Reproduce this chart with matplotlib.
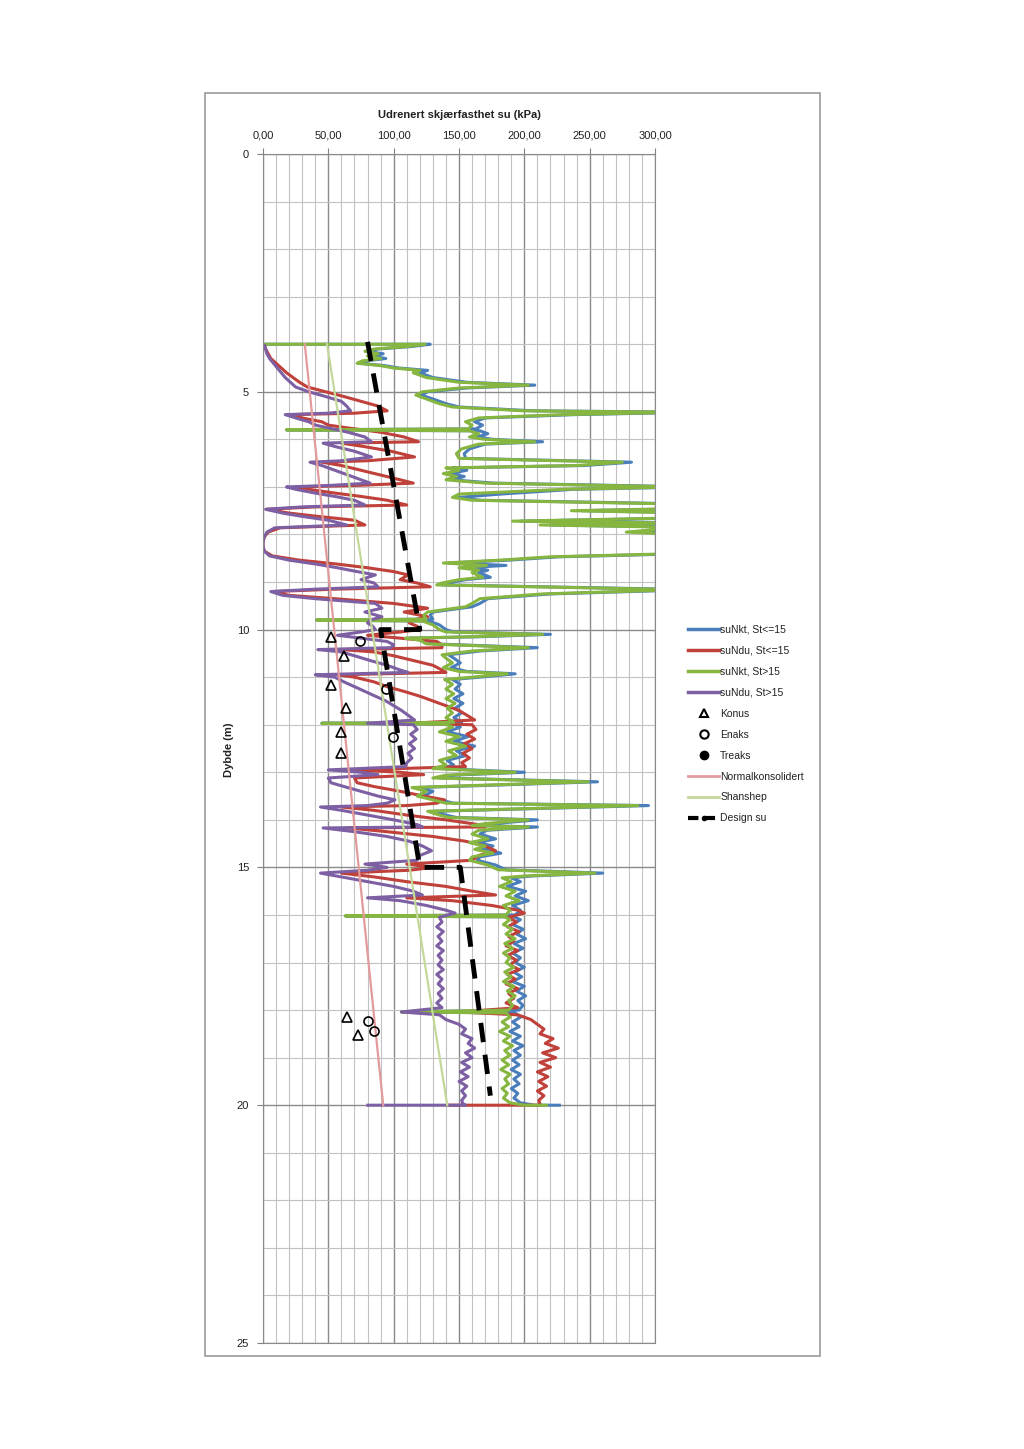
import numpy as np
import matplotlib.pyplot as plt
from matplotlib.lines import Line2D
from matplotlib.patches import Rectangle
from matplotlib.ticker import MultipleLocator, FuncFormatter

plt.rcParams['font.family'] = ['Liberation Sans', 'DejaVu Sans']

# ---- CPTU-tolkning: dybde (m) og su (kPa) ----
z_nkt = [
    4.00, 4.00, 4.05, 4.10, 4.15, 4.20, 4.25, 4.30, 4.35, 4.40,
    4.45, 4.50, 4.55, 4.60, 4.70, 4.80, 4.86, 4.92, 5.00, 5.07,
    5.15, 5.25, 5.32, 5.40, 5.43, 5.48, 5.55, 5.63, 5.70, 5.78,
    5.80, 5.82, 5.88, 5.95, 6.00, 6.05, 6.10, 6.20, 6.30, 6.40,
    6.48, 6.55, 6.60, 6.65, 6.72, 6.78, 6.85, 6.92, 7.00, 7.05,
    7.15, 7.22, 7.28, 7.36, 7.45, 7.50, 7.55, 7.65, 7.72, 7.76,
    7.80, 7.85, 7.95, 8.00, 8.20, 8.40, 8.47, 8.54, 8.60, 8.65,
    8.70, 8.75, 8.80, 8.90, 8.95, 9.02, 9.06, 9.16, 9.25, 9.35,
    9.45, 9.52, 9.63, 9.70, 9.78, 9.80, 9.82, 9.90, 10.00, 10.05,
    10.10, 10.15, 10.18, 10.22, 10.30, 10.38, 10.45, 10.53, 10.60, 10.70,
    10.80, 10.88, 10.93, 11.00, 11.05, 11.15, 11.25, 11.35, 11.45, 11.55,
    11.65, 11.75, 11.85, 11.95, 11.97, 11.99, 12.05, 12.15, 12.25, 12.35,
    12.45, 12.55, 12.65, 12.75, 12.85, 12.92, 13.00, 13.06, 13.12, 13.20,
    13.28, 13.32, 13.40, 13.50, 13.58, 13.65, 13.70, 13.78, 13.82, 13.90,
    13.95, 14.00, 14.08, 14.12, 14.15, 14.22, 14.30, 14.40, 14.48, 14.55,
    14.62, 14.70, 14.78, 14.85, 14.95, 15.05, 15.12, 15.18, 15.22, 15.30,
    15.40, 15.50, 15.60, 15.70, 15.80, 15.90, 16.00, 16.02, 16.04, 16.10,
    16.20, 16.30, 16.40, 16.50, 16.60, 16.70, 16.80, 16.90, 17.00, 17.10,
    17.20, 17.30, 17.40, 17.50, 17.60, 17.70, 17.80, 17.90, 18.00, 18.04,
    18.06, 18.15, 18.25, 18.35, 18.45, 18.55, 18.65, 18.75, 18.85, 18.95,
    19.05, 19.15, 19.25, 19.35, 19.45, 19.55, 19.65, 19.75, 19.85, 19.95,
    20.00, 20.00,
]

# suNkt, St<=15 (blaa)
su_nkt_lo = [
    1, 128, 113, 88, 80, 92, 83, 94, 79, 74,
    93, 104, 126, 120, 130, 156, 208, 156, 126, 121,
    130, 140, 150, 207, 330, 238, 170, 162, 168, 163,
    18, 166, 172, 164, 176, 214, 170, 158, 154, 155,
    282, 246, 145, 156, 143, 154, 145, 176, 330, 238,
    182, 150, 166, 330, 340, 244, 340, 330, 197, 330,
    220, 330, 285, 330, 340, 330, 226, 188, 142, 186,
    155, 172, 165, 174, 155, 141, 137, 330, 220, 172,
    166, 160, 130, 128, 130, 41, 127, 135, 140, 146,
    220, 166, 112, 125, 130, 210, 166, 142, 146, 151,
    144, 156, 193, 166, 145, 151, 147, 153, 146, 153,
    147, 152, 146, 152, 45, 146, 151, 141, 157, 146,
    162, 148, 155, 141, 146, 135, 200, 146, 135, 256,
    166, 118, 130, 123, 135, 146, 295, 186, 131, 140,
    148, 210, 176, 166, 210, 171, 166, 178, 164, 176,
    168, 182, 166, 164, 178, 186, 260, 206, 190, 197,
    187, 201, 193, 203, 191, 197, 193, 63, 192, 197,
    191, 199, 194, 201, 192, 199, 191, 197, 193, 200,
    192, 198, 191, 200, 194, 201, 195, 199, 196, 106,
    193, 197, 191, 196, 189, 197, 191, 199, 192, 197,
    191, 196, 190, 197, 192, 196, 190, 195, 192, 197,
    208, 228,
]

# suNkt, St>15 (groenn)
su_nkt_hi = [
    1, 124, 110, 85, 78, 88, 80, 90, 76, 72,
    90, 100, 120, 115, 125, 150, 203, 150, 122, 117,
    125, 135, 145, 200, 320, 230, 165, 155, 160, 157,
    18, 158, 165, 158, 170, 208, 165, 152, 148, 150,
    275, 240, 140, 150, 138, 148, 140, 170, 320, 230,
    150, 145, 160, 320, 330, 236, 330, 320, 191, 320,
    212, 320, 278, 320, 330, 320, 220, 181, 138, 171,
    150, 165, 160, 168, 150, 137, 133, 320, 214, 166,
    160, 155, 126, 123, 125, 41, 122, 130, 135, 140,
    214, 160, 109, 120, 125, 203, 160, 137, 140, 145,
    138, 150, 187, 160, 139, 145, 140, 146, 140, 147,
    141, 145, 140, 146, 45, 140, 145, 135, 150, 140,
    155, 142, 148, 135, 140, 130, 193, 140, 130, 249,
    160, 114, 125, 118, 130, 140, 287, 180, 126, 135,
    142, 203, 170, 160, 203, 165, 160, 172, 158, 170,
    162, 176, 160, 158, 172, 180, 254, 200, 183, 190,
    181, 193, 186, 196, 184, 189, 186, 63, 185, 189,
    184, 191, 186, 193, 185, 191, 184, 189, 186, 192,
    185, 190, 184, 192, 187, 193, 188, 191, 188, 106,
    186, 189, 183, 188, 181, 189, 184, 191, 185, 189,
    183, 188, 182, 189, 185, 188, 183, 187, 184, 189,
    200, 218,
]

z_ndu = [
    4.00, 4.10, 4.20, 4.30, 4.40, 4.50, 4.60, 4.70, 4.80, 4.90,
    5.00, 5.10, 5.20, 5.30, 5.40, 5.45, 5.48, 5.55, 5.63, 5.70,
    5.76, 5.85, 5.95, 6.05, 6.08, 6.15, 6.25, 6.37, 6.45, 6.48,
    6.55, 6.65, 6.75, 6.85, 6.92, 6.97, 7.00, 7.05, 7.13, 7.20,
    7.28, 7.38, 7.42, 7.47, 7.55, 7.62, 7.70, 7.80, 7.86, 7.95,
    8.05, 8.15, 8.25, 8.35, 8.45, 8.54, 8.62, 8.70, 8.78, 8.85,
    8.95, 9.02, 9.10, 9.15, 9.20, 9.28, 9.35, 9.45, 9.55, 9.63,
    9.73, 9.80, 9.86, 9.93, 10.00, 10.05, 10.12, 10.18, 10.25, 10.32,
    10.38, 10.42, 10.47, 10.55, 10.65, 10.75, 10.85, 10.90, 10.95, 11.00,
    11.10, 11.20, 11.30, 11.40, 11.50, 11.60, 11.70, 11.80, 11.90, 11.97,
    12.00, 12.10, 12.20, 12.30, 12.40, 12.50, 12.60, 12.70, 12.80, 12.88,
    12.95, 13.00, 13.05, 13.12, 13.22, 13.30, 13.40, 13.50, 13.58, 13.65,
    13.70, 13.73, 13.80, 13.90, 14.00, 14.10, 14.15, 14.17, 14.25, 14.35,
    14.45, 14.55, 14.65, 14.75, 14.85, 14.93, 15.00, 15.06, 15.12, 15.20,
    15.30, 15.40, 15.50, 15.58, 15.64, 15.70, 15.80, 15.90, 15.96, 16.05,
    16.15, 16.25, 16.35, 16.45, 16.55, 16.65, 16.75, 16.85, 16.95, 17.05,
    17.15, 17.25, 17.35, 17.45, 17.55, 17.65, 17.75, 17.85, 17.95, 18.04,
    18.10, 18.20, 18.30, 18.40, 18.50, 18.60, 18.70, 18.80, 18.90, 19.00,
    19.10, 19.20, 19.30, 19.40, 19.50, 19.60, 19.70, 19.80, 19.90, 19.97,
    20.00, 20.00,
]

# suNdu, St<=15 (roed)
su_ndu_lo = [
    1, 2, 4, 6, 10, 14, 18, 23, 28, 34,
    48, 62, 75, 88, 95, 70, 22, 30, 45, 50,
    65, 90, 108, 119, 60, 77, 98, 116, 80, 45,
    60, 75, 90, 105, 115, 70, 25, 35, 55, 75,
    95, 110, 40, 3, 20, 42, 70, 78, 13, 4,
    1, 0, 0, 1, 7, 28, 56, 80, 100, 111,
    105, 118, 128, 55, 8, 20, 55, 100, 126, 108,
    126, 115, 112, 118, 120, 105, 80, 105, 133, 137,
    137, 60, 85, 100, 115, 130, 137, 140, 57, 70,
    85, 95, 108, 120, 130, 140, 150, 156, 162, 112,
    160, 163, 156, 162, 154, 160, 153, 158, 152, 155,
    70, 105, 123, 70, 72, 85, 105, 123, 139, 133,
    110, 60, 85, 110, 140, 165, 170, 65, 95, 130,
    155, 170, 178, 165, 160, 110, 130, 112, 60, 85,
    110, 140, 160, 178, 110, 145, 175, 195, 200, 188,
    194, 187, 196, 188, 192, 186, 195, 187, 194, 189,
    196, 187, 193, 186, 195, 188, 192, 186, 195, 150,
    195, 205, 210, 215, 212, 222, 216, 226, 214, 224,
    212, 220, 210, 218, 211, 217, 210, 215, 211, 212,
    212, 141,
]

# suNdu, St>15 (lilla)
su_ndu_hi = [
    1, 2, 3, 5, 8, 11, 14, 17, 21, 25,
    35, 48, 60, 64, 67, 50, 17, 25, 35, 40,
    50, 65, 78, 83, 46, 55, 70, 83, 60, 36,
    45, 55, 65, 75, 82, 50, 18, 25, 40, 55,
    70, 78, 30, 2, 15, 30, 50, 64, 9, 3,
    1, 0, 0, 1, 5, 20, 40, 57, 72, 86,
    75, 85, 88, 40, 6, 15, 40, 86, 91, 78,
    91, 82, 80, 84, 86, 75, 57, 75, 95, 100,
    98, 42, 60, 70, 82, 95, 105, 111, 40, 55,
    62, 70, 78, 86, 94, 100, 106, 111, 116, 80,
    115, 118, 113, 117, 112, 116, 111, 114, 110, 109,
    50, 75, 88, 50, 52, 62, 75, 88, 101, 95,
    80, 44, 60, 80, 100, 118, 122, 46, 70, 95,
    112, 122, 129, 120, 118, 78, 95, 80, 44, 60,
    80, 100, 115, 122, 80, 105, 125, 140, 147, 135,
    137, 133, 138, 134, 137, 133, 138, 134, 137, 134,
    138, 133, 137, 134, 138, 134, 137, 133, 137, 106,
    135, 140, 150, 155, 152, 160, 157, 162, 155, 160,
    152, 158, 151, 157, 150, 156, 152, 155, 152, 153,
    155, 79,
]

# laboratorieforsoek
konus_z = [10.15, 10.55, 11.17, 11.65, 12.15, 12.60, 18.15, 18.52]
konus_su = [52, 62, 52, 63.5, 60, 60, 64, 73]
enaks_z = [10.24, 11.25, 12.26, 18.23, 18.44]
enaks_su = [74, 94, 99.5, 80, 85]

# referanselinjer
nc_z = [4.0, 20.0]
nc_su = [32, 92]
shansep_z = [4.0, 20.0]
shansep_su = [49, 141]

design_z = [3.95, 10.0, 10.0, 15.0, 15.0, 19.8]
design_su = [80, 120, 90, 120, 151, 174]

# ---- figur ----
W, H = 1024, 1449
fig = plt.figure(figsize=(W / 100, H / 100), dpi=100)
fig.patch.set_facecolor('white')

# ramme rundt hele diagrammet
fig.patches.append(Rectangle((205 / W, 1 - 1356 / H), 615 / W, 1263 / H,
                             transform=fig.transFigure, fill=False,
                             ec='#9a9a9a', lw=1.2))

ax = fig.add_axes([263 / W, 1 - 1343 / H, 392 / W, 1189 / H])
ax.set_xlim(0, 300)
ax.set_ylim(25, 0)

ax.xaxis.tick_top()
ax.xaxis.set_major_locator(MultipleLocator(50))
ax.xaxis.set_minor_locator(MultipleLocator(10))
ax.yaxis.set_major_locator(MultipleLocator(5))
ax.yaxis.set_minor_locator(MultipleLocator(1))
ax.xaxis.set_major_formatter(FuncFormatter(lambda v, p: f"{v:.2f}".replace('.', ',')))
ax.yaxis.set_major_formatter(FuncFormatter(lambda v, p: f"{v:.0f}"))

ax.grid(which='major', color='#8a8a8a', lw=1.0)
ax.grid(which='minor', color='#c2c2c2', lw=0.8)
ax.set_axisbelow(True)
ax.tick_params(which='minor', length=0)
ax.tick_params(which='major', length=4, color='#808080', labelsize=8,
               labelcolor='#222222')
ax.tick_params(axis='x', pad=6)
ax.tick_params(axis='y', pad=6)
for s in ax.spines.values():
    s.set_color('#8a8a8a')

c_blue = '#4A7EBB'
c_red = '#C0403A'
c_green = '#86B640'
c_purple = '#7D5FA3'

kw = dict(lw=2.2, solid_joinstyle='round', solid_capstyle='butt')
ax.plot(su_nkt_lo, z_nkt, color=c_blue, **kw)
ax.plot(su_ndu_lo, z_ndu, color=c_red, **kw)
ax.plot(su_nkt_hi, z_nkt, color=c_green, **kw)
ax.plot(su_ndu_hi, z_ndu, color=c_purple, **kw)

ax.plot(nc_su, nc_z, color='#E39A9A', lw=1.6)
ax.plot(shansep_su, shansep_z, color='#C3D89A', lw=1.6)

ax.plot(design_su, design_z, color='black', lw=3.5, ls=(0, (4, 2.6)),
        dash_capstyle='butt')

ax.plot(konus_su, konus_z, ls='none', marker='^', ms=6.5, mfc='none',
        mec='black', mew=1.2)
ax.plot(enaks_su, enaks_z, ls='none', marker='o', ms=6.5, mfc='none',
        mec='black', mew=1.2)

# titler
fig.text(459 / W, 1 - 115 / H, 'Udrenert skjærfasthet su (kPa)',
         ha='center', va='center', fontsize=8, fontweight='bold', color='#222222')
fig.text(229 / W, 1 - 750 / H, 'Dybde (m)', rotation=90,
         ha='center', va='center', fontsize=8, fontweight='bold', color='#222222')

# tegnforklaring
handles = [
    Line2D([], [], color=c_blue, lw=2.5),
    Line2D([], [], color=c_red, lw=2.5),
    Line2D([], [], color=c_green, lw=2.5),
    Line2D([], [], color=c_purple, lw=2.5),
    Line2D([], [], ls='none', marker='^', ms=6, mfc='none', mec='black', mew=1.5),
    Line2D([], [], ls='none', marker='o', ms=6, mfc='none', mec='black', mew=1.5),
    Line2D([], [], ls='none', marker='o', ms=6, mfc='black', mec='black'),
    Line2D([], [], color='#E39A9A', lw=2.0),
    Line2D([], [], color='#C3D89A', lw=2.0),
    Line2D([], [], color='black', lw=3.0, ls=(0, (2.5, 1.5)), marker='o', ms=3),
]
labels = ['suNkt, St<=15', 'suNdu, St<=15', 'suNkt, St>15', 'suNdu, St>15',
          'Konus', 'Enaks', 'Treaks', 'Normalkonsolidert', 'Shanshep', 'Design su']
fig.legend(handles, labels, loc='upper left', bbox_to_anchor=(688 / W, 1 - 625 / H),
           frameon=False, fontsize=7.5, handlelength=3.0, handletextpad=0.1,
           labelspacing=1.05, borderaxespad=0, borderpad=0, numpoints=1,
           labelcolor='#222222')

fig.savefig('out.png', dpi=100)
